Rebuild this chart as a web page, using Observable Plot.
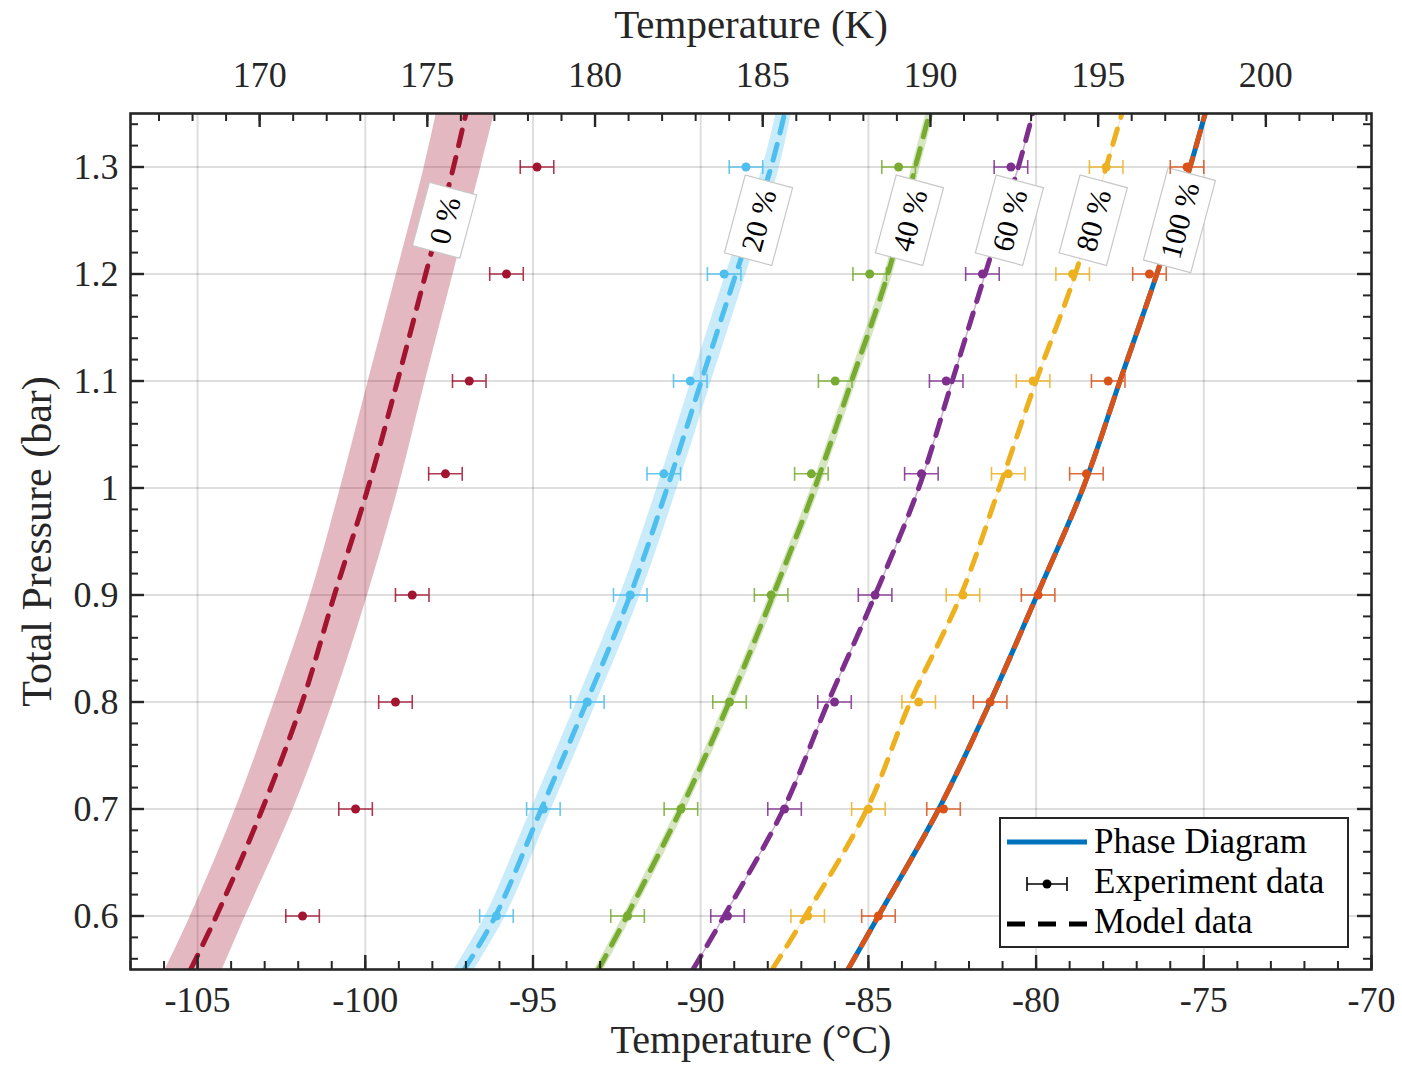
<!DOCTYPE html>
<html><head><meta charset="utf-8">
<script src="https://cdn.jsdelivr.net/npm/d3@7"></script>
<script src="https://cdn.jsdelivr.net/npm/@observablehq/plot@0.6"></script>
<style>
body{margin:0;background:#fff;}
#chart{width:1402px;height:1076px;}
</style></head><body><div id="chart"></div>
<script>
// ---------- data ----------
const compositions = ["0 %", "20 %", "40 %", "60 %", "80 %", "100 %"];
const colors = ["#A2142F", "#4DBEEE", "#77AC30", "#7E2F8E", "#EDB120", "#D95319"];
const phaseColor = "#0072BD";

// pressure grid (bar) on which the curves were read
const pGrid = [0.55, 0.6, 0.7, 0.8, 0.9, 1.0, 1.1, 1.2, 1.3, 1.35];

// model curves (°C)
const model0   = [-105.21, -104.44, -103.07, -101.88, -100.92, -99.92, -99.04, -98.20, -97.37, -97.00];
const model20  = [-97.05, -96.12, -94.75, -93.40, -92.10, -91.00, -89.98, -88.95, -87.90, -87.50];
const model40  = [-93.05, -92.20, -90.59, -89.15, -87.84, -86.60, -85.50, -84.42, -83.60, -83.18];
const model60  = [-90.23, -89.30, -87.53, -86.20, -84.80, -83.50, -82.50, -81.52, -80.53, -80.10];
const model80  = [-87.87, -86.88, -85.04, -83.75, -82.24, -81.10, -80.00, -78.83, -77.91, -77.44];
const model100 = [-85.61, -84.70, -82.90, -81.37, -79.97, -78.60, -77.50, -76.40, -75.41, -74.96];

// phase-diagram bands (°C)
const phase0Lo  = [-105.96, -105.21, -103.87, -102.71, -101.63, -100.74, -99.91, -99.07, -98.24, -97.88];
const phase0Hi  = [-104.26, -103.57, -102.15, -100.96, -99.93, -99.01, -98.21, -97.38, -96.55, -96.15];
const phase20Lo = [-97.35, -96.42, -95.05, -93.70, -92.40, -91.30, -90.28, -89.25, -88.15, -87.75];
const phase20Hi = [-96.75, -95.82, -94.45, -93.10, -91.80, -90.70, -89.68, -88.65, -87.65, -87.30];
const phase40   = model40;
const phase60   = model60;
const phase80   = model80;
const phase100  = model100;

// experiment data (°C), error ±0.5 °C
const pExp  = [0.6, 0.7, 0.8, 0.9, 1.01325, 1.1, 1.2, 1.3];
const exp0   = [-101.87, -100.29, -99.10, -98.60, -97.61, -96.90, -95.79, -94.88];
const exp20  = [-96.09, -94.69, -93.38, -92.10, -91.10, -90.31, -89.30, -88.65];
const exp40  = [-92.18, -90.59, -89.14, -87.90, -86.70, -85.99, -84.96, -84.10];
const exp60  = [-89.20, -87.50, -86.01, -84.80, -83.42, -82.68, -81.60, -80.75];
const exp80  = [-86.81, -85.00, -83.50, -82.18, -80.83, -80.09, -78.91, -77.91];
const exp100 = [-84.70, -82.76, -81.37, -79.94, -78.50, -77.85, -76.62, -75.50];
const expErr = 0.5;

// curve labels
const labelT = [-97.61, -88.25, -83.75, -80.77, -78.27, -75.70];
const labelP = [1.25, 1.25, 1.25, 1.25, 1.25, 1.25];

// ticks
const xTicks = [-105, -100, -95, -90, -85, -80, -75, -70];
const kTicks = [170, 175, 180, 185, 190, 195, 200];
const yTicks = [0.6, 0.7, 0.8, 0.9, 1, 1.1, 1.2, 1.3];
const xDomain = [-107, -70];
const yDomain = [0.55, 1.35];
const kelvinOffset = 273.15;
const legendLabels = ["Phase Diagram", "Experiment data", "Model data"];

// ---------- layout ----------
const W = 1402, H = 1076, mL = 130, mR = 31, mT = 113, mB = 107;
const fW = W - mL - mR, fH = H - mT - mB;
const font = "'Liberation Serif', 'Times New Roman', serif";
const ink = "#262626";

const xMinor = d3.range(-107, -69);
const kMinor = d3.range(167, 204);
const yMinor = d3.range(28, 68).map(i => i / 50);

const expSets = [exp0, exp20, exp40, exp60, exp80, exp100];
const models = [model0, model20, model40, model60, model80, model100];

const capSymbol = {draw(ctx, size) { const h = Math.sqrt(size / Math.PI); ctx.moveTo(0, -h); ctx.lineTo(0, h); }};

const marks = [];
// grid
marks.push(Plot.ruleX(xTicks.slice(0, -1), {x: d => d, stroke: "#000", strokeOpacity: 0.13, strokeWidth: 2}));
marks.push(Plot.ruleY(yTicks, {y: d => d, stroke: "#000", strokeOpacity: 0.13, strokeWidth: 2}));

// phase diagram bands / lines
marks.push(Plot.areaX(pGrid, {y: p => p, x1: (p, i) => phase0Lo[i], x2: (p, i) => phase0Hi[i], fill: colors[0], fillOpacity: 0.3, curve: "catmull-rom", clip: true}));
marks.push(Plot.areaX(pGrid, {y: p => p, x1: (p, i) => phase20Lo[i], x2: (p, i) => phase20Hi[i], fill: colors[1], fillOpacity: 0.3, curve: "catmull-rom", clip: true}));
marks.push(Plot.line(pGrid, {y: p => p, x: (p, i) => phase40[i], stroke: colors[2], strokeOpacity: 0.3, strokeWidth: 8, curve: "catmull-rom", clip: true}));
marks.push(Plot.line(pGrid, {y: p => p, x: (p, i) => phase60[i], stroke: colors[3], strokeOpacity: 0.4, strokeWidth: 1.5, curve: "catmull-rom", clip: true}));
marks.push(Plot.line(pGrid, {y: p => p, x: (p, i) => phase80[i], stroke: colors[4], strokeOpacity: 0.25, strokeWidth: 1.2, curve: "catmull-rom", clip: true}));
marks.push(Plot.line(pGrid, {y: p => p, x: (p, i) => phase100[i], stroke: phaseColor, strokeWidth: 5, curve: "catmull-rom", clip: true}));

// model dashed lines
models.forEach((m, k) => {
  marks.push(Plot.line(pGrid, {y: p => p, x: (p, i) => m[i], stroke: colors[k], strokeWidth: 5, strokeDasharray: "16,12", curve: "catmull-rom", clip: true}));
});

// labels
marks.push(Plot.text(compositions, {x: (d, i) => labelT[i], y: (d, i) => labelP[i], text: d => d, rotate: -75, fontSize: 30, fill: "#000", fontFamily: font}));

// experiment data
expSets.forEach((e, k) => {
  const rows = pExp.map((p, i) => ({P: p, T: e[i]}));
  marks.push(Plot.ruleY(rows, {y: "P", x1: d => d.T - expErr, x2: d => d.T + expErr, stroke: colors[k], strokeOpacity: 0.85, strokeWidth: 1.6}));
  marks.push(Plot.dot(rows, {y: "P", x: d => d.T - expErr, symbol: capSymbol, r: 7, stroke: colors[k], strokeOpacity: 0.85, strokeWidth: 1.6, fill: "none"}));
  marks.push(Plot.dot(rows, {y: "P", x: d => d.T + expErr, symbol: capSymbol, r: 7, stroke: colors[k], strokeOpacity: 0.85, strokeWidth: 1.6, fill: "none"}));
  marks.push(Plot.dot(rows, {y: "P", x: "T", r: 4.5, fill: colors[k], stroke: "none"}));
});

// frame and ticks (inward)
marks.push(Plot.frame({stroke: ink, strokeWidth: 2.6}));
marks.push(Plot.ruleX(xMinor, {x: d => d, insetTop: fH - 8, stroke: ink, strokeWidth: 2}));
marks.push(Plot.ruleX(xTicks, {x: d => d, insetTop: fH - 14, stroke: ink, strokeWidth: 2.4}));
marks.push(Plot.ruleX(kMinor, {x: k => k - kelvinOffset, insetBottom: fH - 8, stroke: ink, strokeWidth: 2}));
marks.push(Plot.ruleX(kTicks, {x: k => k - kelvinOffset, insetBottom: fH - 14, stroke: ink, strokeWidth: 2.4}));
marks.push(Plot.ruleY(yMinor, {y: d => d, insetRight: fW - 8, stroke: ink, strokeWidth: 2}));
marks.push(Plot.ruleY(yTicks, {y: d => d, insetRight: fW - 14, stroke: ink, strokeWidth: 2.4}));
marks.push(Plot.ruleY(yMinor, {y: d => d, insetLeft: fW - 8, stroke: ink, strokeWidth: 2}));
marks.push(Plot.ruleY(yTicks, {y: d => d, insetLeft: fW - 14, stroke: ink, strokeWidth: 2.4}));

// tick labels
marks.push(Plot.text(xTicks, {x: d => d, text: d => String(d), frameAnchor: "bottom", lineAnchor: "middle", dy: 31, fontSize: 36, fill: ink, fontFamily: font}));
marks.push(Plot.text(kTicks, {x: k => k - kelvinOffset, text: k => String(k), frameAnchor: "top", lineAnchor: "middle", dy: -38, fontSize: 36, fill: ink, fontFamily: font}));
marks.push(Plot.text(yTicks, {y: d => d, text: d => String(d), frameAnchor: "left", textAnchor: "end", lineAnchor: "middle", dx: -12, fontSize: 36, fill: ink, fontFamily: font}));

// axis titles
marks.push(Plot.text(["Temperature (°C)"], {text: d => d, frameAnchor: "bottom", textAnchor: "middle", lineAnchor: "bottom", dy: 83, fontSize: 40, fill: ink, fontFamily: font}));
marks.push(Plot.text(["Temperature (K)"], {text: d => d, frameAnchor: "top", textAnchor: "middle", lineAnchor: "bottom", dy: -76, fontSize: 41, fill: ink, fontFamily: font}));
marks.push(Plot.text(["Total Pressure (bar)"], {text: d => d, frameAnchor: "left", textAnchor: "middle", lineAnchor: "bottom", dx: -80, rotate: -90, fontSize: 42, fill: ink, fontFamily: font}));

const svg = Plot.plot({
  width: W, height: H,
  marginLeft: mL, marginRight: mR, marginTop: mT, marginBottom: mB,
  x: {domain: xDomain, axis: null},
  y: {domain: yDomain, axis: null},
  style: {fontFamily: font, background: "#fff", overflow: "visible"},
  marks
});
document.getElementById("chart").appendChild(svg);

// white boxes behind the curve labels
d3.select(svg).selectAll("text").filter(function() { return compositions.includes(this.textContent); }).each(function() {
  const bb = this.getBBox();
  const padX = 9, padY = 8;
  const r = document.createElementNS("http://www.w3.org/2000/svg", "rect");
  r.setAttribute("x", bb.x - padX);
  r.setAttribute("y", bb.y - padY);
  r.setAttribute("width", bb.width + 2 * padX);
  r.setAttribute("height", bb.height + 2 * padY);
  r.setAttribute("fill", "#fff");
  r.setAttribute("stroke", "#c8c8c8");
  r.setAttribute("stroke-width", 1.2);
  const t = this.getAttribute("transform");
  if (t) r.setAttribute("transform", t);
  this.parentNode.insertBefore(r, this);
});

// legend
const lx = W - mR - 23 - 348, ly = mT + 705;
const lg = d3.select(svg).append("g").attr("font-family", font).attr("text-anchor", "start");
lg.append("rect").attr("x", lx).attr("y", ly).attr("width", 348).attr("height", 129)
  .attr("fill", "#fff").attr("stroke", ink).attr("stroke-width", 2);
lg.append("line").attr("x1", lx + 7).attr("x2", lx + 87).attr("y1", ly + 24).attr("y2", ly + 24)
  .attr("stroke", phaseColor).attr("stroke-width", 5);
lg.append("line").attr("x1", lx + 27).attr("x2", lx + 67).attr("y1", ly + 66).attr("y2", ly + 66)
  .attr("stroke", "#000").attr("stroke-width", 1.6);
[27, 67].forEach(dx => lg.append("line").attr("x1", lx + dx).attr("x2", lx + dx).attr("y1", ly + 59).attr("y2", ly + 73)
  .attr("stroke", "#000").attr("stroke-width", 1.6));
lg.append("circle").attr("cx", lx + 47).attr("cy", ly + 66).attr("r", 4.5).attr("fill", "#000");
lg.append("line").attr("x1", lx + 7).attr("x2", lx + 87).attr("y1", ly + 106).attr("y2", ly + 106)
  .attr("stroke", "#000").attr("stroke-width", 5).attr("stroke-dasharray", "18,13");
legendLabels.forEach((s, i) => {
  lg.append("text").attr("x", lx + 94).attr("y", ly + 35 + 40 * i).attr("font-size", 35)
    .attr("text-anchor", "start").attr("fill", "#000").text(s);
});
</script>
</body></html>
